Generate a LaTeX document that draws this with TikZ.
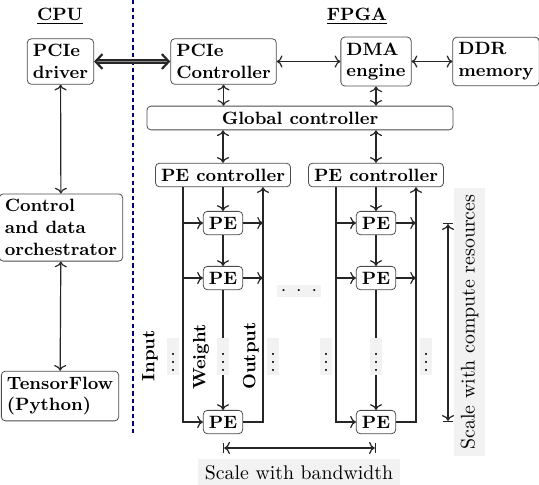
\documentclass[tikz,border=0pt]{standalone}
\usepackage{tikz}
\usetikzlibrary{calc,arrows.meta}
\begin{document}
\begin{tikzpicture}[x=0.01775cm, y=-0.01775cm,
	blk/.style={draw=black!70, rounded corners=2pt, font=\small\bfseries, align=left, inner sep=2.8pt},
	lbl/.style={font=\small\bfseries},
	wire/.style={draw=black!85, line width=0.6pt},
	dbl/.style={<->, >={Straight Barb[length=3.5pt,width=7.5pt,line width=1.1pt]}, draw=black!85, double=black!45, double distance=0.9pt, line width=0.75pt},
	dotbox/.style={fill=black!5, inner sep=1.8pt},
	note/.style={fill=black!5, inner sep=3.33pt}]
	%%%%% START %%%%%
	\useasboundingbox (0,0) rectangle (539,484);
	
	\node[lbl] (cpu) at (60,16) {\underline{CPU}};
	\node[lbl] (fpga) at (357,16) {\underline{FPGA}};
	\draw[blue!45!black, line width=0.6pt, dash pattern=on 2.2pt off 1.6pt] (133,0) -- (133,435);
	
	% host side
	\node[blk] (drv) at (60.5,61.5) {PCIe\\driver};
	\node[blk] (ctl) at (61,227.5) {Control\\and data\\orchestrator};
	\node[blk] (tf) at (60,396) {TensorFlow\\(Python)};
	\draw[wire,<->] (drv) -- (ctl);
	\draw[wire,<->] (ctl) -- (tf);
	
	% fpga side
	\node[blk] (pcie) at (223.5,61.5) {PCIe\\Controller};
	\node[blk] (dma) at (376,61.5) {DMA\\engine};
	\node[blk] (ddr) at (496,61.5) {DDR\\memory};
	\node[blk, align=center, minimum width=5.43cm] (glob) at (300,118) {Global controller};
	\draw[dbl] (drv) -- (pcie);
	\draw[wire,<->] (pcie) -- (dma);
	\draw[wire,<->] (dma) -- (ddr);
	\draw[wire,<->] (pcie.south) -- (pcie.south |- glob.north);
	\draw[wire,<->] (dma.south) -- (dma.south |- glob.north);
	
	\foreach \c/\cx in {1/223,2/376} {
		\node[blk] (pc\c) at (\cx,175) {PE controller};
		\node[blk] (pa\c) at (\cx,223) {PE};
		\node[blk] (pb\c) at (\cx,278) {PE};
		\node[blk] (pn\c) at (\cx,422) {PE};
		\coordinate (in\c) at (\cx-40,175);
		\coordinate (out\c) at (\cx+40,175);
		
		\draw[wire,<->] (glob.south -| pc\c.north) -- (pc\c.north);
		
		% input
		\draw[wire,->] (in\c |- pc\c.south) |- (pn\c.west);
		\draw[wire,->] (in\c |- pa\c) -- (pa\c.west);
		\draw[wire,->] (in\c |- pb\c) -- (pb\c.west);
		% weight
		\draw[wire,->] (pc\c) -- (pa\c);
		\draw[wire,->] (pa\c) -- (pb\c);
		\draw[wire,->] (pb\c) -- (pn\c);
		% output
		\draw[wire,->] (pn\c.east) -| (out\c |- pc\c.south);
		\draw[wire,->] (pa\c.east) -- (out\c |- pa\c);
		\draw[wire,->] (pb\c.east) -- (out\c |- pb\c);
		
		\node[dotbox] (dvi\c) at (\cx-50,356.5) {$\vdots$};
		\node[dotbox] (dvw\c) at (\cx,356.5) {$\vdots$};
		\node[dotbox] (dvo\c) at (\cx+50,356.5) {$\vdots$};
	}
	
	\node[lbl, rotate=90] (inp) at (150,356) {Input};
	\node[lbl, rotate=90] (wgt) at (201,357) {Weight};
	\node[lbl, rotate=90] (outp) at (251,356) {Output};
	\node[dotbox, minimum height=6pt, inner ysep=0pt] (hdots) at (299,291) {$\cdot\;\cdot\;\cdot$};
	
	% scaling
	\coordinate (cr) at (448,0);
	\coordinate (bw) at (0,448);
	\draw[wire,|<->|] (cr |- pa2) -- (cr |- pn2);
	\draw[wire,|<->|] (bw -| pn1) -- (bw -| pn2);
	\node[note, rotate=90] (crtxt) at (469.5,322) {Scale with compute resources};
	\node[note] (bwtxt) at (299,472.5) {Scale with bandwidth};
	%%%%% END %%%%%
\end{tikzpicture}
\end{document}
